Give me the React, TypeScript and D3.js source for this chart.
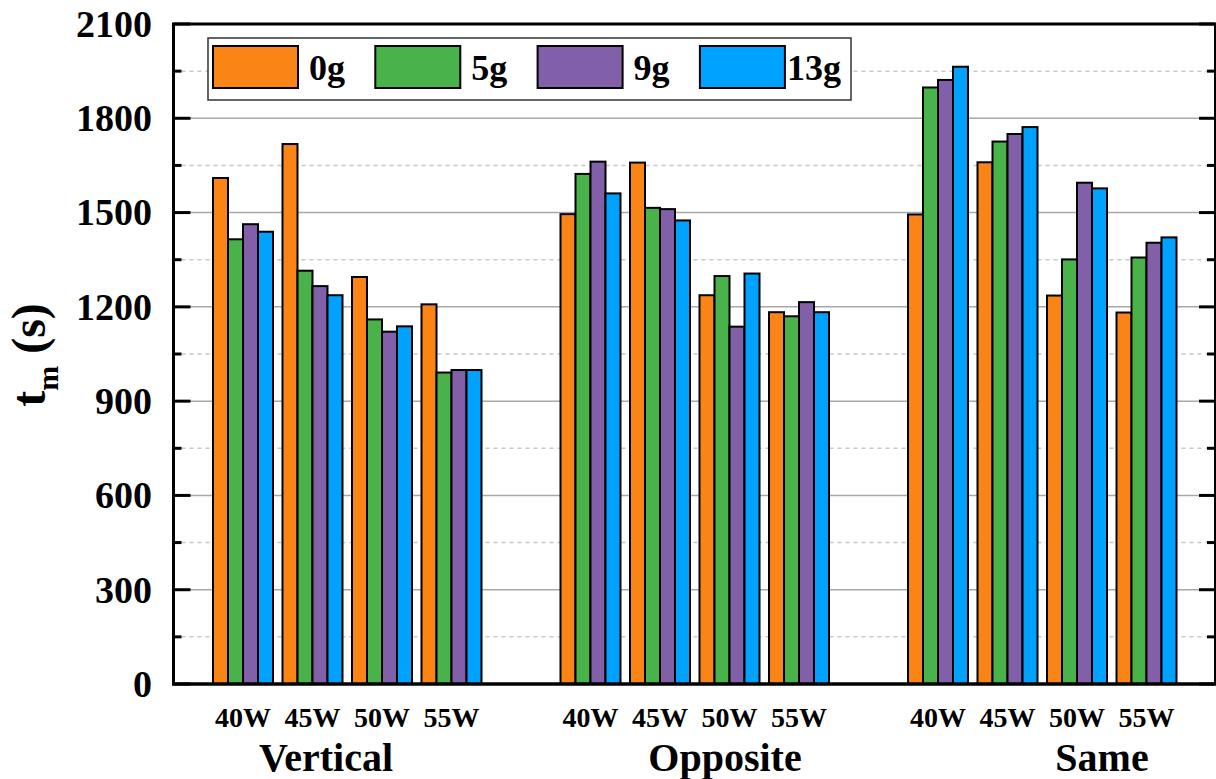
import * as d3 from 'd3';

// chart values
const groups = ['Vertical', 'Opposite', 'Same'];
const powers = ['40W', '45W', '50W', '55W'];
const seriesNames = ['0g', '5g', '9g', '13g'];
const seriesColors = ['#FA8516', '#49B24B', '#825FA9', '#00A2FF'];

// each series: Vertical 40..55W, Opposite 40..55W, Same 40..55W
const g0 = [1610, 1718, 1295, 1208, 1495, 1659, 1237, 1183, 1494, 1660, 1236, 1182];
const g5 = [1415, 1315, 1160, 991, 1623, 1515, 1298, 1170, 1898, 1726, 1351, 1357];
const g9 = [1463, 1266, 1121, 999, 1662, 1511, 1137, 1215, 1922, 1750, 1595, 1404];
const g13 = [1439, 1237, 1138, 999, 1561, 1475, 1306, 1183, 1964, 1772, 1577, 1421];
const seriesValues = [g0, g5, g9, g13];

const yTicks = [0, 300, 600, 900, 1200, 1500, 1800, 2100];
const yMinorTicks = [150, 450, 750, 1050, 1350, 1650, 1950];

const W = 1216, H = 779;
const left = 173.5, right = 1215, top = 24, bottom = 684;
const font = '"Liberation Serif", "Times New Roman", serif';

export default function App() {
  // one slot per power cluster, plus an empty slot between groups
  const x = d3.scaleLinear().domain([-1, 14]).range([left, right + 1]);
  const y = d3.scaleLinear().domain([0, 2100]).range([bottom, top]);
  const inner = d3.scaleBand().domain(seriesNames).range([-30, 30]).paddingInner(0);

  const slot = (g, p) => g * 5 + p;
  const groupLabelX = [326, 725, 1102];

  return (
    <svg width={W} height={H} style={{ position: 'absolute', left: 0, top: 0, background: '#fff' }}
      fontFamily={font} fontWeight="bold">
      {/* grid */}
      {yMinorTicks.map(t => (
        <line key={'mg' + t} x1={left} x2={right} y1={y(t)} y2={y(t)}
          stroke="#c8c8c8" strokeWidth={1.5} strokeDasharray="4,4" />
      ))}
      {yTicks.filter(t => t > 0 && t < 2100).map(t => (
        <line key={'g' + t} x1={left} x2={right} y1={y(t)} y2={y(t)} stroke="#a8a8a8" strokeWidth={1.5} />
      ))}

      {/* bars */}
      {seriesNames.map((s, si) => (
        <g key={s} fill={seriesColors[si]} stroke="#000" strokeWidth={2}>
          {seriesValues[si].map((v, i) => {
            const g = Math.floor(i / 4), p = i % 4;
            const cx = x(slot(g, p));
            return (
              <rect key={i} x={cx + inner(s)} y={y(v)} width={inner.bandwidth()} height={y(0) - y(v)} />
            );
          })}
        </g>
      ))}

      {/* ticks */}
      {yTicks.map(t => (
        <g key={'t' + t} stroke="#000" strokeWidth={3}>
          <line x1={left} x2={left + 17} y1={y(t)} y2={y(t)} />
          <line x1={right - 16} x2={right} y1={y(t)} y2={y(t)} />
        </g>
      ))}
      {yMinorTicks.map(t => (
        <g key={'mt' + t} stroke="#000" strokeWidth={3}>
          <line x1={left} x2={left + 8} y1={y(t)} y2={y(t)} />
          <line x1={right - 8} x2={right} y1={y(t)} y2={y(t)} />
        </g>
      ))}

      {/* frame */}
      <line x1={left - 1.5} x2={right + 1.5} y1={top} y2={top} stroke="#000" strokeWidth={3} />
      <line x1={left - 1.5} x2={right + 1.5} y1={bottom} y2={bottom} stroke="#000" strokeWidth={3.5} />
      <line x1={left} x2={left} y1={top} y2={bottom} stroke="#000" strokeWidth={3} />
      <line x1={right} x2={right} y1={top} y2={bottom} stroke="#000" strokeWidth={2} />

      {/* y tick labels */}
      {yTicks.map(t => (
        <text key={'l' + t} x={152} y={y(t)} dy="0.34em" textAnchor="end" fontSize={38}>{t}</text>
      ))}

      {/* x tick labels */}
      {groups.map((gname, g) => powers.map((p, pi) => (
        <text key={gname + p} x={x(slot(g, pi))} y={727} textAnchor="middle" fontSize={28}>{p}</text>
      )))}
      {groups.map((gname, g) => (
        <text key={gname} x={groupLabelX[g]} y={771} textAnchor="middle" fontSize={40}>{gname}</text>
      ))}

      {/* y title */}
      <text transform="translate(45,355) rotate(-90)" textAnchor="middle" fontSize={48}>
        t<tspan fontSize={30} dy={13}>m</tspan><tspan dy={-13}> (s)</tspan>
      </text>

      {/* legend */}
      <rect x={208} y={38} width={643} height={62} fill="#fff" stroke="#333" strokeWidth={1.5} />
      {seriesNames.map((s, i) => {
        const sx = 213 + 162.3 * i;
        return (
          <g key={'lg' + s}>
            <rect x={sx} y={46} width={85} height={42} fill={seriesColors[i]} stroke="#000" strokeWidth={2} />
            <text x={sx + 85 + (i === 3 ? 2 : 11)} y={80} fontSize={36}>{s}</text>
          </g>
        );
      })}
    </svg>
  );
}
